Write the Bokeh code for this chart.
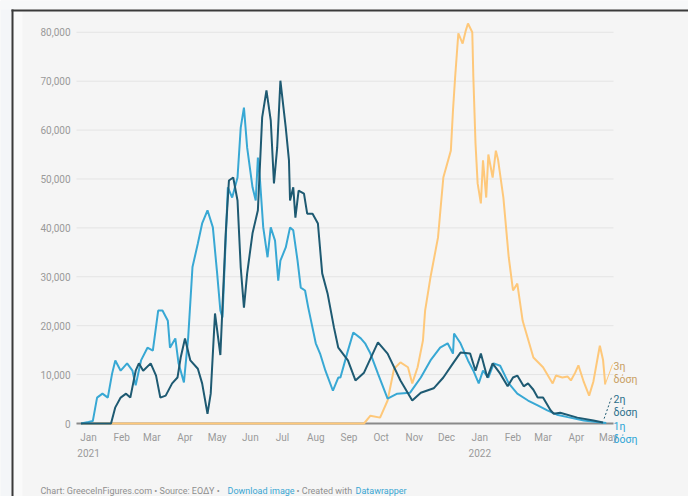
from bokeh.plotting import figure
from bokeh.models import Range1d, BoxAnnotation
from bokeh.core.properties import value
from bokeh.embed import file_html
from bokeh.resources import INLINE

# ---- data: days since 2021-01-01, 7-day average of daily vaccinations ----
days_d1 = [-7, 0, 4, 8, 13, 18, 22, 25, 30, 36, 41, 44, 49, 55, 60, 65, 69, 74, 76, 81, 84, 89, 93,
           97, 102, 106, 111, 116, 120, 123, 125, 130, 134, 139, 142, 145, 148, 153, 156, 158, 160,
           163, 167, 170, 174, 177, 179, 184, 188, 191, 195, 198, 202, 205, 212, 216, 221, 228, 233,
           235, 242, 247, 254, 258, 263, 270, 279, 288, 300, 310, 319, 328, 335, 340, 341, 347, 354,
           359, 364, 368, 373, 378, 384, 392, 400, 410, 419, 428, 437, 447, 462, 478, 483]
vals_d1 = [0, 300, 500, 5300, 6100, 5300, 10200, 12900, 10800, 12300, 10800, 7800, 12900, 15500,
           14900, 23100, 23100, 21000, 15500, 17400, 12300, 8400, 17600, 32000, 36800, 40900, 43600,
           40100, 30700, 23100, 21700, 48300, 46200, 50300, 60500, 64600, 56400, 48300, 45600, 54400,
           49700, 40100, 34000, 40100, 37400, 29200, 33300, 36000, 40100, 39500, 33300, 27800, 27200,
           23700, 16400, 14300, 10800, 6700, 9400, 9400, 14900, 18600, 17400, 16400, 14300, 10200,
           5100, 6100, 6300, 9400, 12900, 15500, 16400, 14300, 18400, 16400, 12900, 10800, 8200,
           10800, 9400, 12300, 11800, 8200, 6100, 4700, 3700, 2700, 1800, 1300, 600, 200, 100]

days_d2 = [-7, 21, 25, 30, 35, 39, 44, 47, 51, 58, 63, 67, 72, 78, 83, 86, 90, 95, 102, 106, 111,
           114, 118, 123, 128, 131, 135, 139, 142, 145, 148, 153, 158, 162, 166, 170, 173, 176, 179,
           184, 187, 188, 191, 193, 196, 201, 204, 209, 214, 218, 223, 229, 233, 242, 249, 257, 270,
           279, 291, 302, 310, 322, 331, 340, 347, 356, 361, 366, 372, 377, 384, 391, 396, 400, 406,
           410, 415, 419, 424, 431, 434, 440, 456, 471, 480]
vals_d2 = [0, 0, 3300, 5300, 6100, 5300, 10800, 12300, 10800, 12300, 9800, 5300, 5700, 8200, 9400,
           13500, 17400, 12900, 11200, 8200, 2000, 6100, 22500, 14000, 38900, 49700, 50300, 45600,
           31900, 23700, 30700, 38900, 43600, 62600, 68100, 62000, 49100, 56400, 70100, 60500, 53800,
           45600, 48300, 42100, 47600, 47000, 42900, 42900, 40900, 30700, 26600, 19600, 15500, 12900,
           8800, 10400, 16600, 14300, 8800, 4700, 6300, 7200, 9400, 12300, 14500, 14300, 10800, 14300,
           9400, 12300, 10200, 7600, 9400, 9800, 7600, 8200, 6900, 5300, 5300, 2700, 2000, 2200, 1200,
           600, 200]

days_d3 = [-7, 257, 263, 272, 279, 285, 291, 298, 302, 307, 312, 314, 319, 326, 331, 338, 340, 342,
           345, 349, 352, 354, 358, 359, 361, 363, 366, 368, 371, 373, 377, 380, 382, 387, 392, 396,
           400, 405, 415, 424, 433, 436, 442, 447, 450, 454, 457, 462, 467, 471, 475, 477, 480, 482]
vals_d3 = [0, 0, 1600, 1200, 4700, 11200, 12500, 11500, 8200, 11500, 17000, 23100, 29900, 38000,
           50300, 55800, 64000, 70800, 79800, 77700, 80400, 81800, 80000, 70800, 57300, 49100, 45000,
           53800, 46200, 55000, 50300, 55800, 54000, 46200, 34000, 27200, 28600, 21000, 13500, 11500,
           8200, 9800, 9400, 9600, 8800, 10400, 11900, 8500, 5700, 8600, 13500, 15900, 13000, 8000]

month_days = [0, 31, 59, 90, 120, 151, 181, 212, 243, 273, 304, 334, 365, 396, 424, 455, 485]
month_labels = ["Jan", "Feb", "Mar", "Apr", "May", "Jun", "Jul", "Aug", "Sep", "Oct", "Nov",
                "Dec", "Jan", "Feb", "Mar", "Apr", "May"]
year_days = [0, 365]
year_labels = ["2021", "2022"]
y_ticks = [0, 10000, 20000, 30000, 40000, 50000, 60000, 70000, 80000]
series_names = ["1η\nδόση", "2η\nδόση", "3η\nδόση"]

C1 = "#38a8d4"
C2 = "#1e5a72"
C3 = "#fec87a"
FONT = "Roboto"
BG = "#f5f5f5"
TICK_COL = "#9a9a9a"
W, H = 688, 496

# page geometry of the plotting area and the data values at its edges
FX0, FX1, DAY0, DAY1 = 76, 615, -11.2, 491.6
FY0, FY1, V_TOP, V_BOT = 20, 424, 82410, -204
kx = (FX1 - FX0) / (DAY1 - DAY0)
ky = (FY1 - FY0) / (V_TOP - V_BOT)


def dx(px):
    return DAY0 + (px - FX0) / kx


def vy(py):
    return V_TOP - (py - FY0) / ky


p = figure(width=W, height=H, output_backend="svg", toolbar_location=None,
           x_range=Range1d(dx(0), dx(W)), y_range=Range1d(vy(H), vy(0)),
           x_axis_location=None, y_axis_location=None,
           min_border=0, min_border_left=0, min_border_right=0, min_border_top=0,
           min_border_bottom=0)
p.background_fill_color = BG
p.border_fill_color = BG
p.outline_line_color = None
p.grid.visible = False

# screenshot frame around the chart
deco = [
    (0, 11, 0, H, "#f4f6f8"),
    (0, W, 0, 9, "#f7f8f9"),
    (13, 22, 11, H, "#fafafa"),
    (11, 13, 9, H, "#3a3a3a"),
    (11, W, 9, 11, "#3a3a3a"),
]
for l, r, t, b, col in deco:
    p.add_layout(BoxAnnotation(left=dx(l), right=dx(r), top=vy(t), bottom=vy(b),
                               fill_color=col, fill_alpha=1, line_color=None, level="underlay"))

# gridlines, zero line and tick labels
grid_x0, grid_x1 = dx(76), dx(613)
p.segment(x0=[grid_x0] * len(y_ticks), x1=[grid_x1] * len(y_ticks), y0=y_ticks, y1=y_ticks,
          line_color="#e4e4e4", line_width=1)
p.segment(x0=[grid_x0], x1=[grid_x1], y0=[0], y1=[0], line_color="#8a8a8a", line_width=2)
p.text(x=[dx(70)] * len(y_ticks), y=y_ticks, text=[f"{v:,}" for v in y_ticks],
       text_align="right", text_baseline="middle", text_color=TICK_COL,
       text_font=value(FONT), text_font_size="10px")
p.text(x=month_days, y=[vy(437)] * len(month_days), text=month_labels, text_align="center",
       text_baseline="middle", text_color=TICK_COL, text_font=value(FONT), text_font_size="10px")
p.text(x=year_days, y=[vy(452)] * len(year_days), text=year_labels, text_align="center",
       text_baseline="middle", text_color=TICK_COL, text_font=value(FONT), text_font_size="10px")

# series
p.line(days_d3, vals_d3, line_color=C3, line_width=2)
p.line(days_d1, vals_d1, line_color=C1, line_width=2)
p.line(days_d2, vals_d2, line_color=C2, line_width=2)

# connectors to end labels
p.segment(x0=[days_d3[-1]], y0=[vals_d3[-1]], x1=[dx(612)], y1=[vy(364)], line_color=C3,
          line_width=1)
p.segment(x0=[days_d2[-1] + 1], y0=[vals_d2[-1] + 800], x1=[dx(611)], y1=[vy(397)],
          line_color=C2, line_width=1, line_dash="2 2")

label_specs = [
    (series_names[2], 366, "#c9a063"),
    (series_names[1], 399, "#2b6f8c"),
    (series_names[0], 426, "#2ea5d6"),
]
for txt, py, col in label_specs:
    first, second = txt.split("\n")
    p.text(x=[dx(613), dx(613)], y=[vy(py), vy(py + 13)], text=[first, second],
           text_color=col, text_font=value(FONT), text_font_size="10.5px",
           text_baseline="middle")

footer = [
    (40, "Chart: GreeceInFigures.com • Source: ΕΟΔΥ • ", "#8f8f8f"),
    (227, "Download image", "#3aa6d3"),
    (296, " • Created with ", "#8f8f8f"),
    (355, "Datawrapper", "#3aa6d3"),
]
for px, txt, col in footer:
    p.text(x=[dx(px)], y=[vy(490)], text=[txt], text_color=col, text_font=value(FONT),
           text_font_size="9px", text_baseline="middle")

open("out.html", "w").write(file_html(p, INLINE))
